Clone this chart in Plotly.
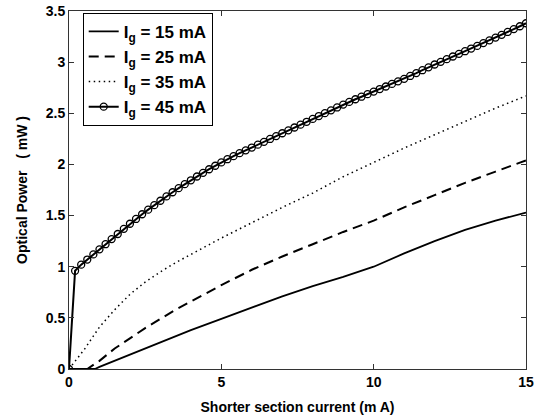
import plotly.graph_objects as go

# Ig = 45 mA (markers, step 0.2 mA)
x45 = [round(i * 0.2, 1) for i in range(76)]
y45 = [0.00, 0.96, 1.02, 1.07, 1.12, 1.17, 1.22, 1.27, 1.32, 1.37,
       1.42, 1.467, 1.513, 1.558, 1.602, 1.645, 1.687, 1.728, 1.768, 1.807,
       1.845, 1.882, 1.918, 1.953, 1.987, 2.02, 2.051, 2.081, 2.11, 2.138,
       2.165, 2.193, 2.221, 2.249, 2.277, 2.305, 2.333, 2.361, 2.389, 2.417,
       2.445, 2.473, 2.501, 2.529, 2.557, 2.585, 2.611, 2.637, 2.662, 2.687,
       2.712, 2.737, 2.762, 2.787, 2.812, 2.837, 2.865, 2.893, 2.921, 2.949,
       2.977, 3.003, 3.029, 3.055, 3.081, 3.107, 3.133, 3.159, 3.186, 3.213,
       3.24, 3.267, 3.295, 3.323, 3.351, 3.38]

# Ig = 35 mA (dotted)
x35 = [0, 0.5, 1, 1.5, 2, 2.5, 3, 3.5, 4, 5, 6, 7, 8, 9, 10, 11, 12, 13, 14, 15]
y35 = [0, 0.19, 0.41, 0.58, 0.73, 0.85, 0.95, 1.04, 1.12, 1.28, 1.43, 1.58,
       1.72, 1.88, 2.02, 2.16, 2.29, 2.42, 2.55, 2.67]

# Ig = 25 mA (dashed)
x25 = [0, 0.6, 1, 1.5, 2, 2.5, 3, 3.5, 4, 5, 6, 7, 8, 9, 10, 11, 12, 13, 14, 15]
y25 = [0, 0, 0.08, 0.20, 0.30, 0.40, 0.49, 0.58, 0.66, 0.82, 0.97, 1.10,
       1.22, 1.34, 1.45, 1.58, 1.70, 1.82, 1.93, 2.04]

# Ig = 15 mA (solid)
x15 = [0, 0.85, 1, 1.5, 2, 2.5, 3, 3.5, 4, 5, 6, 7, 8, 9, 10, 11, 12, 13, 14, 15]
y15 = [0, 0, 0.02, 0.08, 0.14, 0.20, 0.26, 0.32, 0.38, 0.49, 0.60, 0.71,
       0.81, 0.90, 1.00, 1.13, 1.25, 1.36, 1.45, 1.53]

labels = ["I<sub>g</sub> = 15 mA", "I<sub>g</sub> = 25 mA",
          "I<sub>g</sub> = 35 mA", "I<sub>g</sub> = 45 mA"]

fig = go.Figure()
fig.add_trace(go.Scatter(x=x15, y=y15, mode="lines", name=labels[0],
                         line=dict(color="black", width=1.8)))
fig.add_trace(go.Scatter(x=x25, y=y25, mode="lines", name=labels[1],
                         line=dict(color="black", width=2, dash="10px,6px")))
fig.add_trace(go.Scatter(x=x35, y=y35, mode="lines", name=labels[2],
                         line=dict(color="black", width=1.5, dash="1.5px,3.5px")))
fig.add_trace(go.Scatter(x=x45, y=y45, mode="lines+markers", name=labels[3],
                         line=dict(color="black", width=2),
                         marker=dict(symbol="circle-open", size=7,
                                     color="black", line=dict(width=1.3))))

font_family = "Liberation Sans, Arial, sans-serif"
axis_common = dict(
    showgrid=False, zeroline=False, showline=True, linecolor="#333333",
    linewidth=1, mirror="ticks", ticks="inside", ticklen=5,
    tickcolor="#333333", automargin=False,
    tickfont=dict(family=font_family, size=14, color="black", weight="bold"),
)

fig.update_layout(
    width=538, height=416,
    margin=dict(l=69, r=12, t=11, b=47),
    paper_bgcolor="white", plot_bgcolor="white",
    showlegend=True,
    legend=dict(x=0.03, y=0.995, xanchor="left", yanchor="top",
                bgcolor="white", bordercolor="black", borderwidth=1,
                font=dict(family=font_family, size=17, color="black",
                          weight="bold"),
                tracegroupgap=0),
    xaxis=dict(range=[0, 15], tickvals=[0, 5, 10, 15],
               title=dict(text="Shorter section current (m A)", standoff=13,
                          font=dict(family=font_family, size=14,
                                    color="black", weight="bold")),
               **axis_common),
    yaxis=dict(range=[0, 3.5], tickvals=[0, 0.5, 1, 1.5, 2, 2.5, 3, 3.5],
               ticktext=["0", "0.5", "1", "1.5", "2", "2.5", "3", "3.5"],
               title=dict(text="Optical Power   ( mW )", standoff=14,
                          font=dict(family=font_family, size=14,
                                    color="black", weight="bold")),
               **axis_common),
)

fig.write_html("out.html")
